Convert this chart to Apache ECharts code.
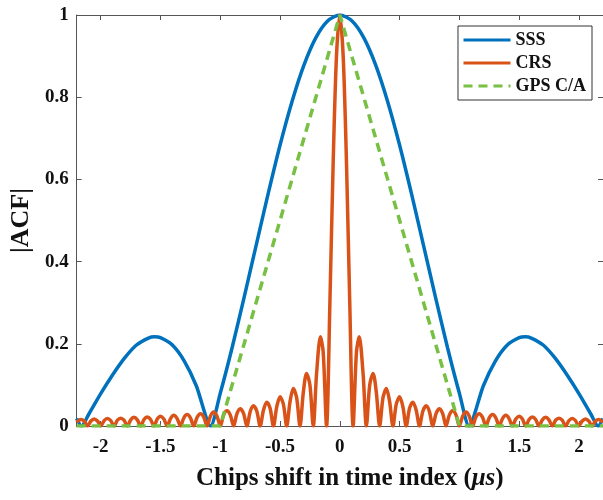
<!DOCTYPE html>
<html>
<head>
<meta charset="utf-8">
<script src="https://cdn.jsdelivr.net/npm/echarts@6/dist/echarts.min.js"></script>
<style>
  html, body { margin: 0; padding: 0; background: #fff; }
  #chart { width: 603px; height: 500px; }
</style>
</head>
<body>
<div id="chart"></div>
<script>
// chip shift (positive half, the curves are symmetric about 0)
let sssX = [0, 0.1, 0.2, 0.3, 0.4, 0.5, 0.6, 0.7, 0.8, 0.9, 1.0, 1.08,
  1.2, 1.3, 1.4, 1.5, 1.55, 1.6, 1.7, 1.8, 1.9, 2.0, 2.1, 2.16, 2.2];
let sssY = [1, 0.986, 0.945, 0.878, 0.789, 0.683, 0.564, 0.439, 0.313, 0.191, 0.079, 0,
  0.098, 0.158, 0.197, 0.215, 0.217, 0.214, 0.197, 0.165, 0.124, 0.078, 0.028, 0, 0.018];

let crsX = [0, 0.028, 0.056, 0.083, 0.111,
  0.139, 0.162, 0.194, 0.222,
  0.250, 0.278, 0.305, 0.333,
  0.361, 0.389, 0.416, 0.444,
  0.472, 0.500, 0.527, 0.555,
  0.583, 0.611, 0.638, 0.666,
  0.694, 0.722, 0.749, 0.777,
  0.805, 0.833, 0.860, 0.888,
  0.916, 0.944, 0.971, 0.999,
  1.027, 1.055, 1.082, 1.110,
  1.138, 1.166, 1.193, 1.221,
  1.249, 1.277, 1.304, 1.332,
  1.360, 1.388, 1.415, 1.443,
  1.471, 1.499, 1.526, 1.554,
  1.582, 1.610, 1.637, 1.665,
  1.693, 1.721, 1.748, 1.776,
  1.804, 1.832, 1.859, 1.887,
  1.915, 1.943, 1.970, 1.998,
  2.026, 2.054, 2.081, 2.109,
  2.137, 2.165, 2.2];
let crsY = [1, 0.90, 0.637, 0.30, 0,
  0.180, 0.217, 0.129, 0,
  0.100, 0.128, 0.082, 0,
  0.069, 0.091, 0.060, 0,
  0.053, 0.071, 0.047, 0,
  0.043, 0.058, 0.039, 0,
  0.036, 0.049, 0.035, 0,
  0.031, 0.042, 0.030, 0,
  0.027, 0.037, 0.027, 0,
  0.024, 0.034, 0.024, 0,
  0.022, 0.030, 0.021, 0,
  0.020, 0.028, 0.020, 0,
  0.018, 0.026, 0.018, 0,
  0.017, 0.024, 0.017, 0,
  0.016, 0.022, 0.016, 0,
  0.015, 0.021, 0.015, 0,
  0.014, 0.019, 0.014, 0,
  0.013, 0.018, 0.013, 0,
  0.012, 0.017, 0.012, 0,
  0.012, 0.016, 0.009];

let gpsX = [0, 1, 2.2];
let gpsY = [1, 0, 0];

let seriesNames = ['SSS', 'CRS', 'GPS C/A'];
let colors = ['#0072BD', '#D95319', '#77C043'];

// mirror the positive half onto the negative side
let mirror = (xs, ys) => {
  let right = xs.map((x, i) => [x, ys[i]]);
  let left = right.slice(1).map((p) => [-p[0], p[1]]).reverse();
  return left.concat(right);
};

let font = '"Times New Roman", "Liberation Serif", serif';

let chart = echarts.init(document.getElementById('chart'));
chart.setOption({
  animation: false,
  color: colors,
  grid: { left: 76, right: -1, top: 15, bottom: 74 },
  legend: {
    data: seriesNames,
    orient: 'vertical',
    right: 11,
    top: 26,
    itemWidth: 47,
    itemHeight: 14,
    itemGap: 5,
    padding: [5, 6, 5, 4],
    backgroundColor: '#fff',
    borderColor: '#333',
    borderWidth: 1,
    borderRadius: 0,
    itemStyle: { opacity: 0 },
    lineStyle: { width: 3 },
    textStyle: { fontFamily: font, fontWeight: 'bold', fontSize: 18, color: '#111' }
  },
  xAxis: [
    {
      type: 'value',
      min: -2.2,
      max: 2.2,
      splitNumber: 9,
      name: 'Chips shift in time index ({i|μs})',
      nameLocation: 'middle',
      nameGap: 40,
      nameTextStyle: {
        fontFamily: font, fontWeight: 'bold', fontSize: 25, color: '#111',
        padding: [0, 0, 0, 20],
        rich: { i: { fontFamily: font, fontWeight: 'bold', fontStyle: 'italic', fontSize: 25, color: '#111' } }
      },
      axisLine: { onZero: false, lineStyle: { color: '#555', width: 1 } },
      axisTick: { inside: true, length: 5, lineStyle: { color: '#555' } },
      axisLabel: {
        margin: 12, showMinLabel: false, showMaxLabel: false,
        fontFamily: font, fontWeight: 'bold', fontSize: 19, color: '#111'
      },
      splitLine: { show: false }
    },
    {
      type: 'value',
      position: 'top',
      min: -2.2,
      max: 2.2,
      splitNumber: 9,
      axisLine: { onZero: false, lineStyle: { color: '#555', width: 1 } },
      axisTick: { inside: true, length: 5, lineStyle: { color: '#555' } },
      axisLabel: { show: false },
      splitLine: { show: false }
    }
  ],
  yAxis: [
    {
      type: 'value',
      min: 0,
      max: 1,
      interval: 0.2,
      name: '|ACF|',
      nameLocation: 'middle',
      nameGap: 42,
      nameTextStyle: { fontFamily: font, fontWeight: 'bold', fontSize: 26, color: '#111' },
      axisLine: { show: true, onZero: false, lineStyle: { color: '#555', width: 1 } },
      axisTick: { show: true, inside: true, length: 5, lineStyle: { color: '#555' } },
      axisLabel: { margin: 8, fontFamily: font, fontWeight: 'bold', fontSize: 19, color: '#111' },
      splitLine: { show: false }
    },
    {
      type: 'value',
      position: 'right',
      min: 0,
      max: 1,
      interval: 0.2,
      axisLine: { show: true, onZero: false, lineStyle: { color: '#555', width: 1 } },
      axisTick: { show: true, inside: true, length: 5, lineStyle: { color: '#555' } },
      axisLabel: { show: false },
      splitLine: { show: false }
    }
  ],
  series: [
    {
      name: seriesNames[0],
      type: 'line',
      showSymbol: false,
      symbol: 'none',
      smooth: 0.25,
      lineStyle: { width: 3.5, color: colors[0] },
      data: mirror(sssX, sssY)
    },
    {
      name: seriesNames[1],
      type: 'line',
      showSymbol: false,
      symbol: 'none',
      smooth: 0.3,
      lineStyle: { width: 3.5, color: colors[1] },
      data: mirror(crsX, crsY)
    },
    {
      name: seriesNames[2],
      type: 'line',
      showSymbol: false,
      symbol: 'none',
      lineStyle: { width: 3.5, color: colors[2], type: [9, 6] },
      data: mirror(gpsX, gpsY)
    }
  ]
});
</script>
</body>
</html>
